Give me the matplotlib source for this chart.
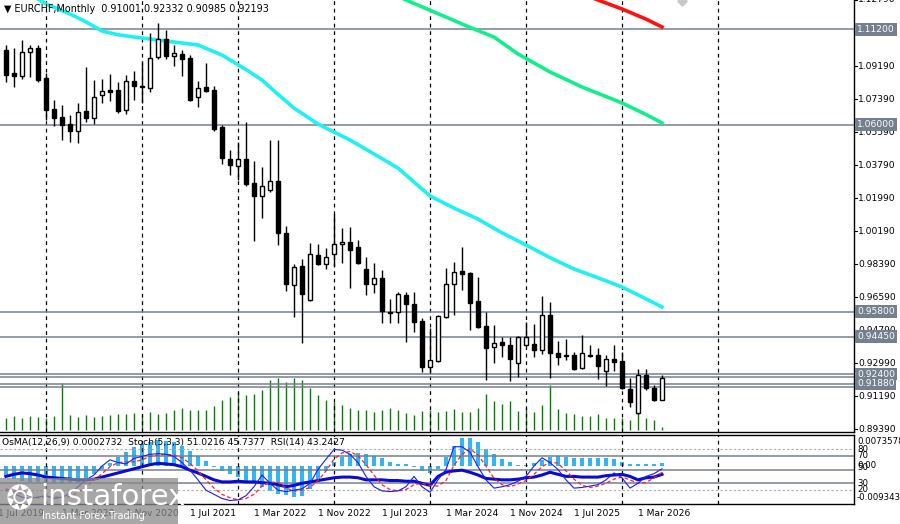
import matplotlib
matplotlib.use('Agg')
import matplotlib.pyplot as plt
import numpy as np

# monthly EURCHF candles, Aug 2019 .. Jun 2026
opens = [1.1007,1.0881,1.0865,1.0996,1.1017,1.0854,1.0685,1.0641,1.0603,1.0565,
         1.0674,1.0636,1.0761,1.0788,1.0788,1.0679,1.0838,1.0810,1.0799,1.0968,
         1.1066,1.0974,1.0985,1.0963,1.0750,1.0805,1.0788,1.0587,1.0412,1.0374,
         1.0412,1.0282,1.0211,1.0244,1.0293,1.0009,0.9726,0.9829,0.9644,0.9889,
         0.9840,0.9895,0.9949,0.9960,0.9933,0.9813,0.9731,0.9764,0.9579,0.9579,
         0.9671,0.9622,0.9530,0.9279,0.9312,0.9551,0.9731,0.9802,0.9791,0.9639,
         0.9502,0.9388,0.9415,0.9399,0.9301,0.9399,0.9404,0.9371,0.9562,0.9355,
         0.9344,0.9344,0.9273,0.9344,0.9344,0.9257,0.9322,0.9312,0.9159,0.9028,
         0.9235,0.9164,0.91001]
closes = [1.0870,1.0865,1.0996,1.1017,1.0843,1.0679,1.0636,1.0598,1.0565,1.0669,
          1.0636,1.0750,1.0783,1.0778,1.0674,1.0838,1.0810,1.0805,1.0963,1.1066,
          1.0974,1.0990,1.0957,1.0734,1.0799,1.0783,1.0576,1.0418,1.0380,1.0412,
          1.0276,1.0211,1.0265,1.0293,1.0009,0.9731,0.9824,0.9677,0.9895,0.9840,
          0.9878,0.9949,0.9960,0.9916,0.9846,0.9731,0.9764,0.9584,0.9573,0.9677,
          0.9622,0.9524,0.9279,0.9317,0.9557,0.9731,0.9797,0.9786,0.9628,0.9497,
          0.9382,0.9410,0.9399,0.9322,0.9442,0.9442,0.9371,0.9562,0.9355,0.9333,
          0.9339,0.9268,0.9355,0.9339,0.9284,0.9322,0.9306,0.9164,0.9088,0.9235,
          0.9164,0.9099,0.92193]
highs = [1.1034,1.1017,1.1061,1.1034,1.1034,1.0881,1.0734,1.0707,1.0652,1.0718,
         1.0914,1.0843,1.0848,1.0876,1.0832,1.0870,1.0892,1.0941,1.1099,1.1154,
         1.1115,1.1034,1.1007,1.0979,1.0838,1.0936,1.0810,1.0598,1.0461,1.0505,
         1.0614,1.0402,1.0369,1.0516,1.0516,1.0047,0.9840,0.9867,0.9955,0.9949,
         0.9927,1.0113,1.0036,1.0042,0.9971,0.9878,0.9846,0.9808,0.9649,0.9688,
         0.9688,0.9688,0.9546,0.9491,0.9562,0.9818,0.9851,0.9933,0.9797,0.9769,
         0.9579,0.9508,0.9442,0.9442,0.9448,0.9524,0.9513,0.9666,0.9633,0.9421,
         0.9431,0.9361,0.9453,0.9399,0.9382,0.9344,0.9399,0.9361,0.9219,0.9268,
         0.9268,0.9181,0.92332]
lows = [1.0832,1.0805,1.0848,1.0859,1.0832,1.0625,1.0592,1.0516,1.0505,1.0500,
        1.0614,1.0603,1.0718,1.0729,1.0663,1.0658,1.0734,1.0718,1.0778,1.0957,
        1.0957,1.0919,1.0865,1.0728,1.0696,1.0778,1.0565,1.0385,1.0325,1.0298,
        1.0265,0.9966,1.0091,1.0233,0.9944,0.9693,0.9551,0.9410,0.9639,0.9835,
        0.9813,0.9829,0.9846,0.9709,0.9840,0.9671,0.9682,0.9519,0.9519,0.9519,
        0.9415,0.9470,0.9252,0.9246,0.9306,0.9546,0.9562,0.9699,0.9480,0.9490,
        0.9208,0.9301,0.9333,0.9203,0.9224,0.9393,0.9333,0.9350,0.9219,0.9290,
        0.9317,0.9263,0.9268,0.9333,0.9213,0.9175,0.9257,0.9159,0.9061,0.9023,
        0.9154,0.9094,0.90985]
volumes = [12,14,12,14,13,12,14,47,15,13,15,13,14,15,16,16,17,15,18,16,
           17,20,22,20,20,20,24,30,33,38,35,36,40,50,52,48,52,50,42,35,
           30,28,25,22,20,20,18,20,22,20,17,15,19,20,18,19,21,18,18,22,
           36,29,26,29,19,22,18,25,45,21,17,16,14,14,16,12,12,12,10,17,
           12,10,3]

# moving averages, sampled at bar indices
ma_slow_k = [0,2,5,8,10,12,14,16,19,21,24,27,30,32,34,36,39,43,46,49,53,56,59,62,65,68,71,74,77,80,82]
ma_slow = [1.1400,1.1340,1.1257,1.1203,1.1160,1.1110,1.1090,1.1077,1.1061,1.1050,1.1034,1.0979,
           1.0900,1.0843,1.0765,1.0690,1.0603,1.0516,1.0440,1.0363,1.0211,1.0145,1.0085,1.0010,
           0.9944,0.9875,0.9813,0.9765,0.9715,0.9650,0.9606]
ma_green_k = [47,50,55,58,61,64,68,72,77,80,82]
ma_green = [1.1340,1.1279,1.1186,1.1130,1.1077,1.0985,1.0887,1.0805,1.0718,1.0655,1.0609]
ma_red_k = [71,74,77,80,82]
ma_red = [1.1330,1.1279,1.1230,1.1175,1.1132]

levels = [1.1120, 1.0600, 0.9580, 0.9445, 0.9240, 0.9224, 0.9188, 0.9170]
level_labels = ['1.11200', '1.06000', '0.95800', '0.94450', '0.92400', '0.91880']
level_label_vals = [1.1120, 1.0600, 0.9580, 0.9445, 0.9240, 0.9188]
price_ticks = [1.12790,1.10990,1.09190,1.07390,1.05590,1.03790,1.01990,1.00190,
               0.98390,0.96590,0.94790,0.92990,0.91190,0.89390]

osma = [-3.5,-4.0,-4.5,-4.8,-5.0,-5.2,-5.4,-5.5,-5.3,-4.8,-4.0,-2.5,-1.0,0.8,2.5,
        4.0,5.5,6.5,7.2,7.7,7.5,7.0,6.0,4.5,3.0,1.5,-0.5,-1.5,-2.5,-3.5,-4.5,-5.5,
        -6.5,-7.5,-8.3,-8.8,-9.3,-9.0,-7.0,-4.0,-1.5,1.0,2.5,3.5,3.8,3.5,3.0,2.2,
        1.2,0.5,0.5,-0.5,-1.5,-2.2,-1.0,2.5,6.0,8.3,8.3,7.0,5.0,3.5,2.0,1.0,0.3,
        0.2,0.8,1.8,2.5,2.8,2.5,2.3,2.3,2.3,2.3,2.3,2.0,1.2,0.5,0.6,0.4,0.5,0.8]
stoch = [20,15,10,8,10,12,8,10,15,25,35,42,55,64,60,58,66,69,72,73,72,69,60,49,35,
         20,14,8,5,6,12,25,42,30,20,18,20,22,30,50,65,79,78,72,60,40,25,19,18,19,
         25,40,25,17,35,50,83,83,75,54,35,23,25,28,33,40,55,67,60,50,35,23,24,26,
         28,35,45,38,23,30,40,44,51]
signal = [22,18,15,11,9,10,10,10,11,17,25,34,44,54,60,61,61,64,69,71,72,71,67,59,48,
          35,23,14,9,6,8,14,26,32,31,23,19,20,24,34,48,65,74,76,70,57,42,28,21,19,
          21,28,30,27,26,34,56,72,80,71,55,37,28,25,29,34,43,54,61,59,48,36,27,24,
          26,30,36,39,35,30,31,38,46]
rsi = [40,43,45,44,42,39,38,37,36,35,35,36,39,42,45,48,51,54,57,59,58,57,54,49,45,
       40,35,32,32,33,32,32,31,30,28,25,27,30,32,34,36,38,39,39,38,35,35,35,34,34,
       33,33,30,27,40,46,48,49,46,42,37,36,35,35,36,38,39,42,46,43,40,40,39,39,39,
       41,42,43,40,35,38,39,43]

date_k = [-1,7,15,23,31,39,47,55,63,71,79]
date_labels = ['1 Jul 2019','1 Mar 2020','1 Nov 2020','1 Jul 2021','1 Mar 2022','1 Nov 2022',
               '1 Jul 2023','1 Mar 2024','1 Nov 2024','1 Jul 2025','1 Mar 2026']
grid_k = [5,17,29,41,53,65,77,89]

W, H = 900, 524
fig = plt.figure(figsize=(9, 5.24), dpi=100)
fig.patch.set_facecolor('white')
lvl_col = '#75808f'
fs = 6.6

ax = fig.add_axes([0, 1 - 432 / H, 854 / W, 432 / H])
ax_i = fig.add_axes([0, 1 - 504 / H, 854 / W, 69 / H])
xlim = (-0.75, 106)
ymin = 1.1279 - 432 * 0.000545
for a in (ax, ax_i):
    a.set_xlim(*xlim)
    a.set_xticks([]); a.set_yticks([])
    for s in a.spines.values():
        s.set_color('black'); s.set_linewidth(1)
    a.spines['left'].set_visible(False)
    a.spines['top'].set_visible(a is ax_i)
    for g in grid_k:
        a.axvline(g, color='black', ls=(0, (3, 3)), lw=0.9, zorder=1)
ax.set_ylim(ymin, 1.1279)

# volume on twin axis
ax_v = ax.twinx()
ax_v.set_ylim(-2, 430)
ax_v.set_yticks([]); ax_v.axis('off')
k = np.arange(len(opens))
ax_v.vlines(k, 0, volumes, color='#008000', lw=1)
ax.set_zorder(ax_v.get_zorder() + 1)
ax.patch.set_visible(False)

for lv in levels:
    ax.axhline(lv, color=lvl_col, lw=1.1, zorder=2)

ax.plot(ma_slow_k, ma_slow, color='#1ff0f0', lw=2.6, zorder=3)
ax.plot(ma_green_k, ma_green, color='#12ee8c', lw=2.6, zorder=3)
ax.plot(ma_red_k, ma_red, color='#ff1010', lw=2.6, zorder=3)
ax.scatter([84.5], [1.1275], marker='D', s=22, color='#c8c8c8', zorder=3, clip_on=True)

o = np.array(opens); c = np.array(closes)
ax.vlines(k, lows, highs, color='black', lw=1, zorder=4)
bot = np.minimum(o, c); hgt = np.maximum(np.abs(c - o), 0.0003)
face = ['white' if ci >= oi else 'black' for oi, ci in zip(o, c)]
ax.bar(k, hgt, bottom=bot, width=0.6, color=face, edgecolor='black', lw=1, zorder=5)

# right price scale
for p in price_ticks:
    ax.text(858 / 854, p, f'{p:.5f}', transform=ax.get_yaxis_transform(), fontsize=fs,
            va='center', ha='left', clip_on=False)
    ax.plot([1, 1.004], [p, p], transform=ax.get_yaxis_transform(), color='black', lw=0.8, clip_on=False)
for lv, lb in zip(level_label_vals, level_labels):
    ax.text(857 / 854, lv, lb, transform=ax.get_yaxis_transform(), fontsize=fs, color='white',
            va='center', ha='left', clip_on=False,
            bbox=dict(boxstyle='square,pad=0.2', fc=lvl_col, ec='none'))

fig.text(4 / W, 1 - 9 / H, '\u25bc EURCHF,Monthly  0.91001 0.92332 0.90985 0.92193', fontsize=fs + 0.3, va='center')

# indicator panel
ax_i.set_ylim(0, 100)
for lv in (70, 50, 30):
    ax_i.axhline(lv, color=lvl_col, lw=1.1, zorder=2)
for lv in (80, 20):
    ax_i.axhline(lv, color='#aaaaaa', lw=0.8, ls=(0, (2, 2)), zorder=2)
ax_h = ax_i.twinx()
ax_h.set_ylim(-11.43, 9.15)
ax_h.axis('off')
ax_h.bar(k, osma, width=0.45, color='#33b5f0', zorder=1)
ax_i.set_zorder(ax_h.get_zorder() + 1)
ax_i.patch.set_visible(False)
ax_i.plot(k, rsi, color='#0a0ad0', lw=2.2, zorder=4)
ax_i.plot(k, signal, color='#ff2020', lw=0.9, ls=(0, (3, 2)), zorder=4)
ax_i.plot(k, stoch, color='#1a1aff', lw=0.8, zorder=5)
fig.text(2 / W, 1 - 442 / H, 'OsMA(12,26,9) 0.0002732  Stoch(5,3,3) 51.0216 45.7377  RSI(14) 43.2427',
         fontsize=fs, va='center')
for y, t in [(441, '0.0073578'), (449, '80'), (456, '70'), (465, '0.00'), (468, '50'),
             (483, '30'), (490, '20'), (497, '-0.009343')]:
    fig.text(857 / W, 1 - y / H, t, fontsize=fs - 0.4, va='center', ha='left')

for dk, dl in zip(date_k, date_labels):
    fig.text((dk * 8 + 6) / W, 1 - 514 / H, dl, fontsize=fs, va='center', ha='left')

# logo
fig.patches.append(plt.Rectangle((0, 0), 178 / W, 46 / H, transform=fig.transFigure,
                                 facecolor='#8a8a8a', alpha=0.75, zorder=10))
fig.text(40 / W, 1 - 497 / H, 'instaforex', fontsize=21, color='white', va='center', zorder=11)
fig.text(42 / W, 1 - 516 / H, 'Instant Forex Trading', fontsize=7, color='white', va='center', zorder=11)
fig.text(6 / W, 1 - 500 / H, '\u2742', fontsize=24, color='white', va='center', zorder=11)

fig.savefig('out.png', dpi=100)
